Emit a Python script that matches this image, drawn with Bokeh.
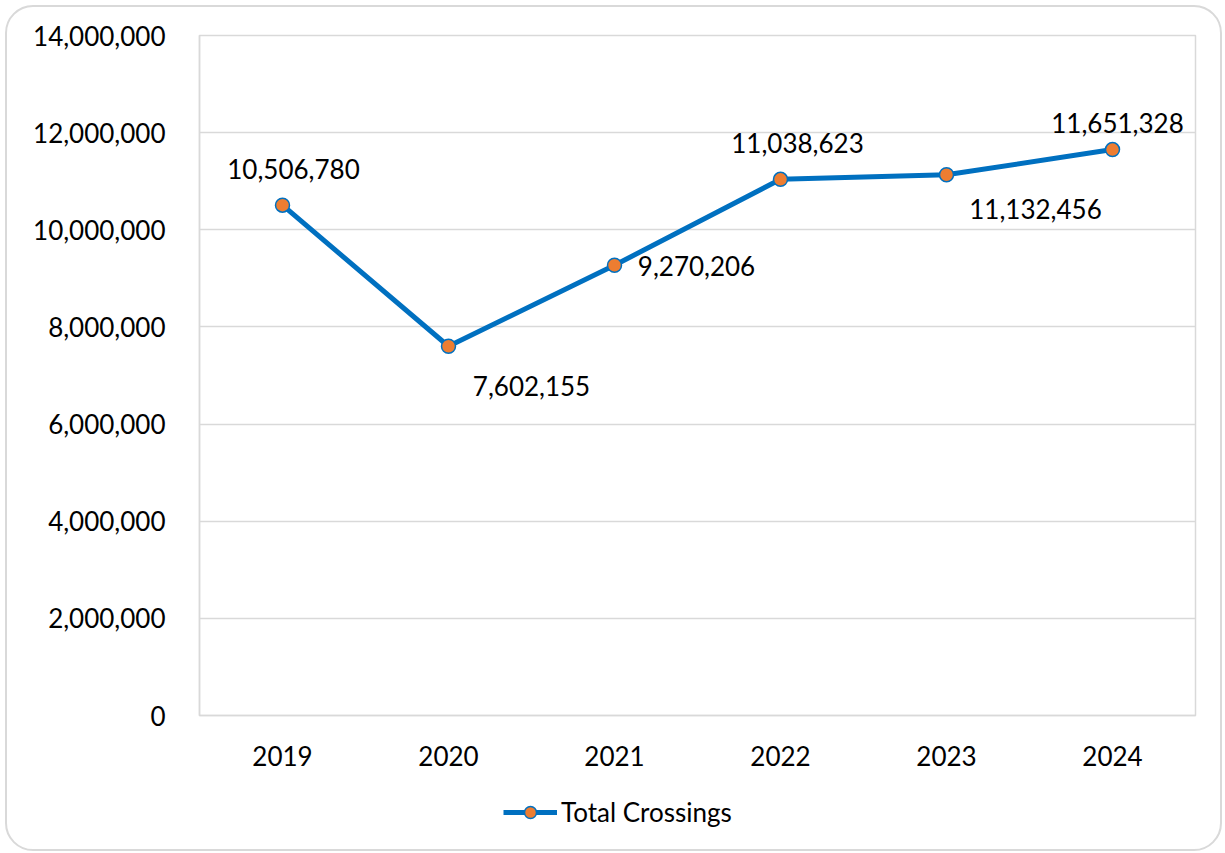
from bokeh.plotting import figure
from bokeh.layouts import column
from bokeh.models import ColumnDataSource, NumeralTickFormatter, Legend, LegendItem, FixedTicker, InlineStyleSheet, Range1d
from bokeh.core.properties import value
from bokeh.embed import file_html
from bokeh.resources import INLINE

years = ["2019", "2020", "2021", "2022", "2023", "2024"]
crossings = [10506780, 7602155, 9270206, 11038623, 11132456, 11651328]
labels = ["{:,}".format(v) for v in crossings]
series_name = "Total Crossings"

# label placement (screen px) - style only
label_dx = [11, 83, 82, 17, 89, 5]
label_dy = [-36, 40, 1, -36, 34, -27]

FONT = "Lato"
FS = "26px"
BLUE = "#0070C0"
ORANGE = "#ED7D31"
GRID = "#D9D9D9"

src = ColumnDataSource(dict(x=years, y=crossings, lab=labels, dx=label_dx, dy=label_dy))

p = figure(x_range=years, y_range=(0, 14000000), width=1225, height=785,
           output_backend="svg", toolbar_location=None,
           min_border_left=199, min_border_right=30, min_border_top=35, min_border_bottom=70)
p.background_fill_color = "white"
p.border_fill_color = "white"
p.outline_line_color = GRID
p.outline_line_width = 1.5

p.xgrid.grid_line_color = None
p.ygrid.grid_line_color = GRID
p.ygrid.grid_line_width = 1.5

p.yaxis.ticker = FixedTicker(ticks=list(range(0, 14000001, 2000000)))
p.yaxis.formatter = NumeralTickFormatter(format="0,0")
for ax in (p.xaxis, p.yaxis):
    ax.axis_line_color = GRID
    ax.axis_line_width = 1.5
    ax.major_tick_line_color = None
    ax.minor_tick_line_color = None
    ax.major_label_text_font = FONT
    ax.major_label_text_font_size = FS
    ax.major_label_text_color = "black"
p.yaxis.major_label_standoff = 28
p.xaxis.major_label_standoff = 24

p.line("x", "y", source=src, line_color=BLUE, line_width=5)
p.scatter("x", "y", source=src, size=14, fill_color=ORANGE, line_color=BLUE, line_width=1.5)

p.text("x", "y", text="lab", source=src, x_offset="dx", y_offset="dy",
       text_font=value(FONT), text_font_size=FS, text_color="black",
       text_align="center", text_baseline="middle")

# legend strip (separate figure so the legend is not clipped by the frame);
# its series renderers lie outside its visible range, only the legend shows
q = figure(width=1225, height=68, output_backend="svg", toolbar_location=None,
           x_range=p.x_range, y_range=Range1d(-2, -1),
           min_border_left=0, min_border_right=0, min_border_top=0, min_border_bottom=0)
q.axis.visible = False
q.grid.visible = False
q.outline_line_color = None
q.background_fill_color = "white"
q.border_fill_color = "white"
lnq = q.line("x", "y", source=src, line_color=BLUE, line_width=5)
scq = q.scatter("x", "y", source=src, size=14, fill_color=ORANGE, line_color=BLUE, line_width=1.5)

legend = Legend(items=[LegendItem(label=series_name, renderers=[lnq, scq])],
                location=(304, 25), orientation="horizontal")
legend.label_text_font = FONT
legend.label_text_font_size = FS
legend.label_text_color = "black"
legend.glyph_width = 54
legend.glyph_height = 30
legend.label_standoff = 4
legend.padding = 0
legend.margin = 0
legend.border_line_color = None
legend.background_fill_alpha = 0
q.add_layout(legend)

layout = column(p, q, spacing=0)
layout.stylesheets = [InlineStyleSheet(css="""
:host::after {
  content: "";
  position: absolute;
  left: 5px; top: 5px; right: 3px; bottom: 2px;
  border: 2.5px solid #D9D9D9;
  border-radius: 28px;
  pointer-events: none;
  z-index: 100;
}
""")]

open("out.html", "w").write(file_html(layout, INLINE))
